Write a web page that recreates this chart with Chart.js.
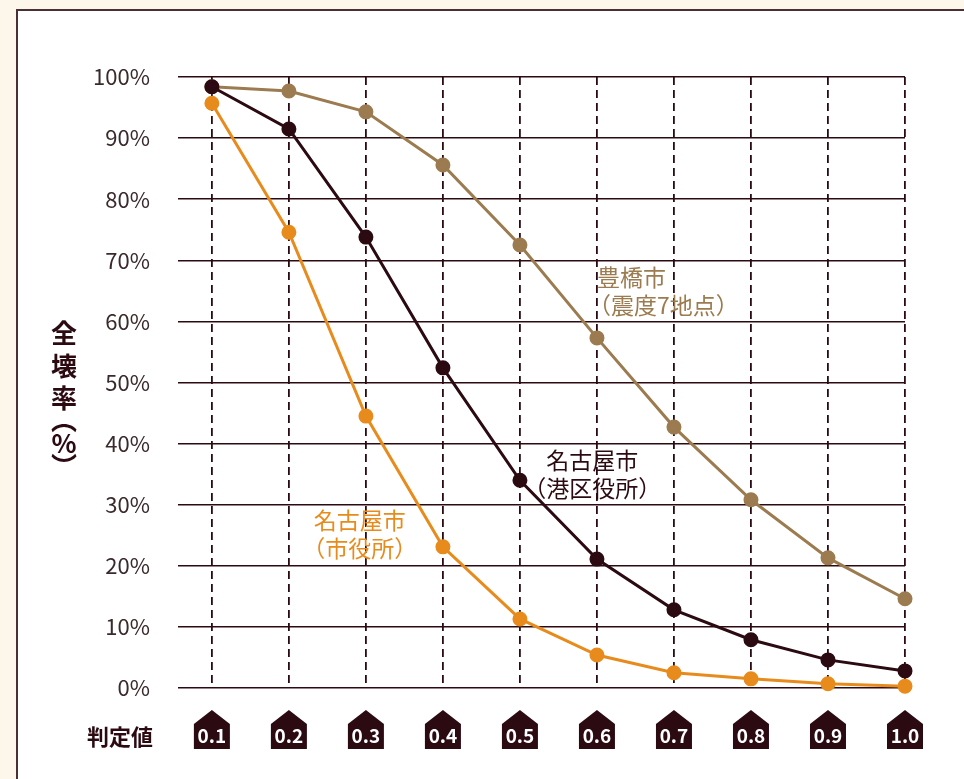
<!DOCTYPE html>
<html lang="ja">
<head>
  <meta charset="UTF-8" />
  <title>判定値と全壊率</title>
  <script src="https://cdn.jsdelivr.net/npm/chart.js"></script>
  <style>
    html, body { margin: 0; padding: 0; }
    body { width: 964px; height: 779px; background: #fcf7ea; position: relative; overflow: hidden; }
    #panel {
      position: absolute; left: 16px; top: 9px; width: 980px; height: 800px;
      background: #fff; border: 2px solid #4a3035;
    }
    #wrap { position: absolute; left: 0; top: 0; width: 964px; height: 779px; }
  </style>
</head>
<body>
  <div id="panel"></div>
  <div id="wrap"><canvas id="chart" width="964" height="779"></canvas></div>
  <script>
    // 判定値
    const judgeValues = [0.1, 0.2, 0.3, 0.4, 0.5, 0.6, 0.7, 0.8, 0.9, 1.0];
    const judgeLabels = ['0.1', '0.2', '0.3', '0.4', '0.5', '0.6', '0.7', '0.8', '0.9', '1.0'];

    // 全壊率 (%)
    const toyohashi = [98.4, 97.7, 94.3, 85.6, 72.5, 57.3, 42.7, 30.8, 21.3, 14.6];
    const nagoyaMinato = [98.4, 91.5, 73.8, 52.4, 34.0, 21.1, 12.8, 7.9, 4.6, 2.8];
    const nagoyaCity = [95.7, 74.6, 44.5, 23.1, 11.3, 5.4, 2.5, 1.5, 0.7, 0.3];

    const yTicks = [0, 10, 20, 30, 40, 50, 60, 70, 80, 90, 100];

    const TAN = '#9b7b4f';
    const DARK = '#2b0a12';
    const ORANGE = '#e88b1d';
    const INK = '#3b2a2c';
    const FONT = "'Noto Sans CJK JP', 'Noto Sans', sans-serif";

    const pts = arr => arr.map((y, i) => ({ x: judgeValues[i], y }));

    const series = (label, data, color) => ({
      label, data: pts(data),
      borderColor: color, backgroundColor: color,
      pointBackgroundColor: color, pointBorderColor: color,
      borderWidth: 3, pointRadius: 6, pointHoverRadius: 6,
      tension: 0, clip: false
    });

    // text labels placed in data units
    const notes = [
      { lines: ['豊橋市', '（震度7地点）'], x: 0.6, y: 67.3, color: TAN, align: 'left' },
      { lines: ['名古屋市', '（港区役所）'], x: 0.594, y: 37.3, color: DARK, align: 'center' },
      { lines: ['名古屋市', '（市役所）'], x: 0.292, y: 27.5, color: ORANGE, align: 'center' }
    ];

    const decor = {
      id: 'decor',
      afterDraw(chart) {
        const { ctx, scales: { x, y } } = chart;
        ctx.save();
        // annotations
        ctx.font = '23px ' + FONT;
        ctx.textBaseline = 'middle';
        notes.forEach(n => {
          ctx.fillStyle = n.color;
          ctx.textAlign = n.align;
          const px = x.getPixelForValue(n.x), py = y.getPixelForValue(n.y);
          n.lines.forEach((t, i) => {
            const dx = (i === 1 && n.align === 'left') ? -9 : 0;
            ctx.fillText(t, px + dx, py + i * 28);
          });
        });

        // badges
        const by = y.bottom;
        judgeValues.forEach((v, i) => {
          const cx = x.getPixelForValue(v);
          ctx.fillStyle = DARK;
          ctx.beginPath();
          ctx.moveTo(cx, by + 22);
          ctx.lineTo(cx + 18, by + 36);
          ctx.lineTo(cx + 18, by + 61);
          ctx.lineTo(cx - 18, by + 61);
          ctx.lineTo(cx - 18, by + 36);
          ctx.closePath();
          ctx.fill();
          ctx.fillStyle = '#fff';
          ctx.font = 'bold 19px ' + FONT;
          ctx.textAlign = 'center';
          ctx.fillText(judgeLabels[i], cx, by + 48);
        });

        // x title
        ctx.fillStyle = DARK;
        ctx.font = 'bold 22px ' + FONT;
        ctx.textAlign = 'right';
        ctx.fillText('判定値', 153, by + 49);

        // y title, vertical
        ctx.font = 'bold 26px ' + FONT;
        ctx.textAlign = 'center';
        const chars = ['全', '壊', '率', '︵', '%', '︶'];
        const ys = [333, 366, 398, 420, 443, 466];
        chars.forEach((c, i) => ctx.fillText(c, 64, ys[i]));
        ctx.restore();
      }
    };

    new Chart(document.getElementById('chart'), {
      type: 'line',
      data: {
        datasets: [
          series('名古屋市（市役所）', nagoyaCity, ORANGE),
          series('名古屋市（港区役所）', nagoyaMinato, DARK),
          series('豊橋市（震度7地点）', toyohashi, TAN)
        ]
      },
      options: {
        responsive: false,
        animation: false,
        layout: { padding: { left: 0, top: 77, right: 59, bottom: 91 } },
        plugins: { legend: { display: false }, tooltip: { enabled: false } },
        scales: {
          x: {
            type: 'linear', min: 0.056, max: 1.0,
            afterBuildTicks: s => { s.ticks = judgeValues.map(v => ({ value: v })); },
            afterFit: s => { s.height = 0; },
            ticks: { display: false },
            grid: { color: DARK, lineWidth: 1.8, drawTicks: false },
            border: { display: false, dash: [8, 5] }
          },
          y: {
            min: 0, max: 100,
            afterBuildTicks: s => { s.ticks = yTicks.map(v => ({ value: v })); },
            afterFit: s => { s.width = 178; },
            ticks: {
              padding: 28, color: INK,
              font: { size: 22, family: FONT },
              callback: v => v + '%'
            },
            grid: { color: DARK, lineWidth: 1.5, drawTicks: false },
            border: { display: false }
          }
        }
      },
      plugins: [decor]
    });
  </script>
</body>
</html>
